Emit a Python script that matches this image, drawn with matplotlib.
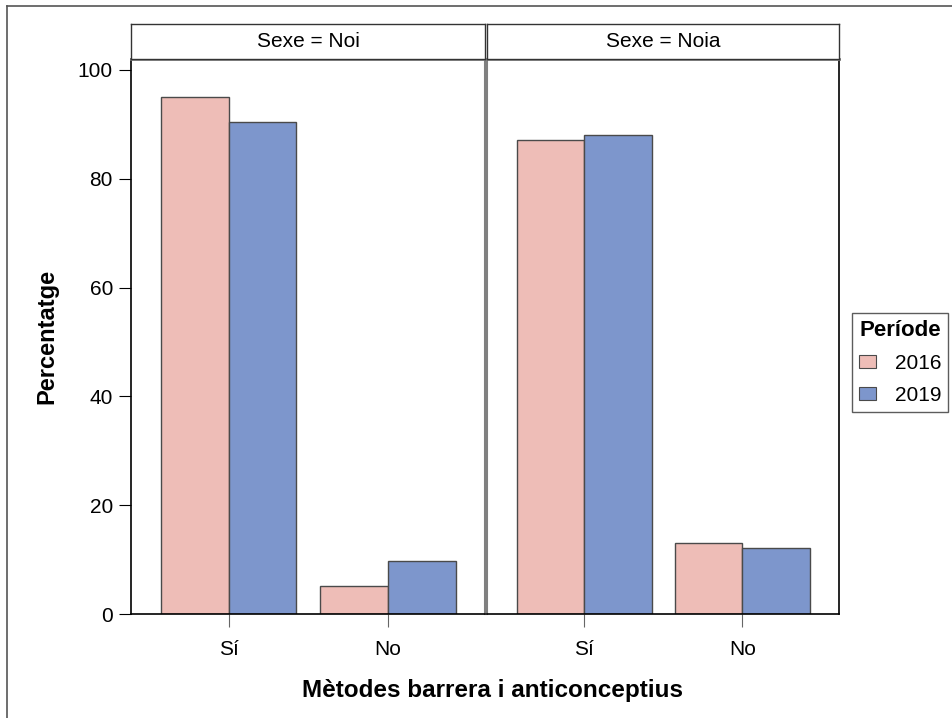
import matplotlib
matplotlib.use("Agg")
import matplotlib.pyplot as plt
from matplotlib.lines import Line2D
from matplotlib.patches import Patch
import numpy as np

plt.rcParams["font.family"] = ["Liberation Sans", "DejaVu Sans"]

# Data
categories = ["Sí", "No"]
panels = ["Sexe = Noi", "Sexe = Noia"]
periods = ["2016", "2019"]
noi_2016 = [95.0, 5.1]
noi_2019 = [90.4, 9.7]
noia_2016 = [87.1, 13.0]
noia_2019 = [88.0, 12.1]

colors = ["#EEBDB7", "#7D96CC"]
edge = "#4a4a4a"

W, H = 952, 718
fig = plt.figure(figsize=(W / 100, H / 100), dpi=100)


def fx(px):
    return px / W


def fy(py):
    return 1 - py / H


panel_data = [(noi_2016, noi_2019), (noia_2016, noia_2019)]
panel_px = [(131, 485), (487, 839)]
x = np.arange(len(categories))
width = 0.425

for i, ((left, right), values, title) in enumerate(zip(panel_px, panel_data, panels)):
    ax = fig.add_axes([fx(left), fy(614), fx(right - left), fy(59) - fy(614)])
    for j, (vals, col) in enumerate(zip(values, colors)):
        offset = (j - 0.5) * width
        ax.bar(x + offset, vals, width, color=col, edgecolor=edge, linewidth=1.0,
               align="center")
    ax.set_xlim(-0.615, 1.61)
    ax.set_ylim(0, 102)
    ax.set_xticks(x)
    ax.set_xticklabels(categories, fontsize=15)
    ax.tick_params(axis="x", length=9, color="#666666", pad=10)
    for sp in ax.spines.values():
        sp.set_color("#808080")
        sp.set_linewidth(2)
    ax.spines["bottom"].set_color("black")
    ax.spines["bottom"].set_linewidth(1.2)
    if i == 0:
        ax.set_yticks([0, 20, 40, 60, 80, 100])
        ax.tick_params(axis="y", labelsize=15, length=9, pad=4)
        ax.spines["left"].set_color("black")
        ax.spines["left"].set_linewidth(1.2)
        ax.spines["right"].set_linewidth(1.5)
        ax.set_ylabel("Percentatge", fontsize=17, fontweight="bold", labelpad=14)
    else:
        ax.set_yticks([])
        ax.spines["right"].set_color("black")
        ax.spines["right"].set_linewidth(1.2)
        ax.spines["left"].set_linewidth(1.5)

    # strip header
    sax = fig.add_axes([fx(left), fy(59), fx(right - left), fy(24) - fy(59)])
    sax.set_xticks([])
    sax.set_yticks([])
    for sp in sax.spines.values():
        sp.set_color("#333333")
        sp.set_linewidth(1.0)
    sax.text(0.5, 0.5, title, ha="center", va="center", fontsize=15,
             transform=sax.transAxes)

fig.text(fx(492), fy(691), "Mètodes barrera i anticonceptius", ha="center",
         va="center", fontsize=17.5, fontweight="bold")

handles = [Patch(facecolor=c, edgecolor=edge, linewidth=0.8) for c in colors]
leg = fig.legend(handles, periods, title="Període", loc="center",
                 bbox_to_anchor=(fx(900), fy(362.5)), fontsize=15,
                 title_fontproperties={"weight": "bold", "size": 16},
                 frameon=True, fancybox=False, edgecolor="#333333",
                 handlelength=0.82, handleheight=0.63, handletextpad=0.9,
                 borderpad=0.35, labelspacing=0.62, borderaxespad=0)
leg.get_frame().set_linewidth(1.0)

# outer frame lines
fig.add_artist(Line2D([fx(7), 1], [fy(6), fy(6)], color="#555555", linewidth=1.2))
fig.add_artist(Line2D([fx(7), fx(7)], [fy(6), 0], color="#555555", linewidth=1.2))

fig.savefig("out.png", dpi=100)
